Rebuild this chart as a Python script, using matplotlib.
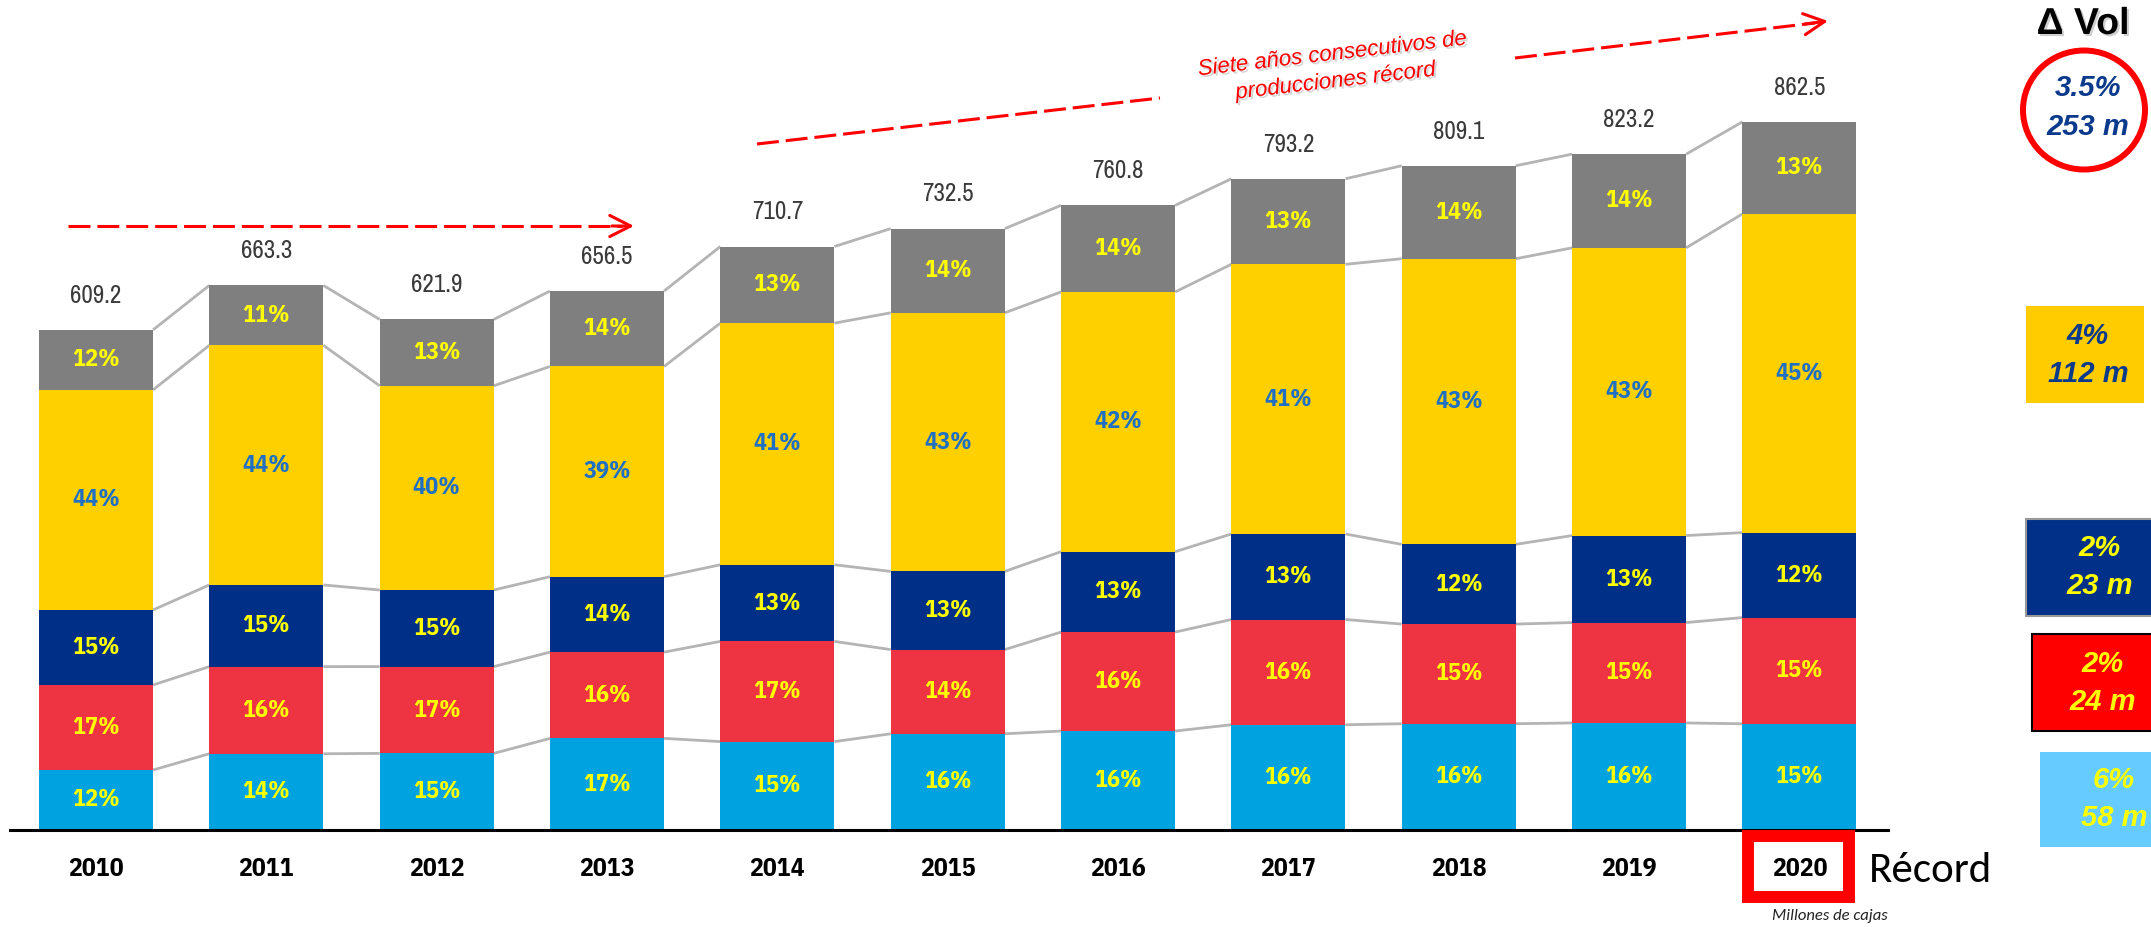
import matplotlib
matplotlib.use("Agg")
import numpy as np
import matplotlib.pyplot as plt
import matplotlib.patheffects as pe
from matplotlib.patches import Rectangle, Ellipse
from matplotlib.lines import Line2D
import logging

logging.getLogger('matplotlib.font_manager').setLevel(logging.ERROR)
plt.rcParams['lines.scale_dashes'] = False

# =========================
# DATA
# =========================
years = [2010, 2011, 2012, 2013, 2014, 2015, 2016, 2017, 2018, 2019, 2020]
totals = [609.2, 663.3, 621.9, 656.5, 710.7, 732.5, 760.8, 793.2, 809.1, 823.2, 862.5]

# share of each segment (%), bottom to top
pct_lightblue = [12, 14, 15, 17, 15, 16, 16, 16, 16, 16, 15]
pct_red = [17, 16, 17, 16, 17, 14, 16, 16, 15, 15, 15]
pct_navy = [15, 15, 15, 14, 13, 13, 13, 13, 12, 13, 12]
pct_yellow = [44, 44, 40, 39, 41, 43, 42, 41, 43, 43, 45]
pct_grey = [12, 11, 13, 14, 13, 14, 14, 13, 14, 14, 13]

# variation boxes on the right (total, yellow, navy, red, light blue)
delta_pct = ["3.5%", "4%", "2%", "2%", "6%"]
delta_vol = ["253 m", "112 m", "23 m", "24 m", "58 m"]

# =========================
# STYLE
# =========================
seg_colors = ['#00a3df', '#ee3342', '#002f87', '#ffd000', '#7f7f7f']
lab_colors = ['#ffff00', '#ffff00', '#ffff00', '#1f6fc4', '#ffff00']
narrow = ['Liberation Sans Narrow', 'Arial Narrow', 'Archivo Narrow', 'PT Sans Narrow',
          'Roboto Condensed', 'Open Sans Condensed', 'Liberation Sans', 'DejaVu Sans']
narrow_bold = ['Liberation Sans Narrow', 'Arial Narrow', 'IBM Plex Sans Condensed',
               'PT Sans Narrow', 'Open Sans Condensed', 'Liberation Sans', 'DejaVu Sans']
arial = ['Liberation Sans', 'DejaVu Sans']
calibri = ['Carlito', 'Lato', 'DejaVu Sans']

W, H = 2151, 927
fig = plt.figure(figsize=(W / 100, H / 100), dpi=100)


def fx(px):
    return px / W


def fy(py):
    return 1 - py / H


# axes: baseline at y=830 px, scale 0.821 px per unit
ax = fig.add_axes([fx(10), fy(830), 1878 / W, 830 / H])
ax.set_xlim(-0.505, 10.52)
ax.set_ylim(0, 830 / 0.821)
ax.axis('off')

x = np.arange(len(years))
bw = 0.67
pct = np.array([pct_lightblue, pct_red, pct_navy, pct_yellow, pct_grey], dtype=float)
vals = pct / pct.sum(axis=0) * np.array(totals)

bottom = np.zeros(len(years))
for k in range(len(pct)):
    ax.bar(x, vals[k], bottom=bottom, width=bw, color=seg_colors[k], zorder=2)
    for i in range(len(years)):
        ax.text(x[i], bottom[i] + vals[k][i] / 2, f"{int(pct[k][i])}%",
                ha='center', va='center', fontsize=17.5, fontweight='bold',
                family=narrow_bold, color=lab_colors[k], zorder=3)
    tops = bottom + vals[k]
    for i in range(len(years) - 1):
        ax.plot([x[i] + bw / 2, x[i + 1] - bw / 2], [tops[i], tops[i + 1]],
                color='#b4b4b4', lw=2, zorder=1, solid_capstyle='butt')
    bottom = tops

# totals above bars
for i, t in enumerate(totals):
    ax.annotate(f"{t:.1f}", (x[i], t), xytext=(0, 25), textcoords='offset points',
                ha='center', va='center', fontsize=18, family=narrow, color='#3a3a3a')

# year labels
for i, yr in enumerate(years):
    ax.annotate(str(yr), (x[i], 0), xytext=(0, -28), textcoords='offset points',
                ha='center', va='center', fontsize=18.5, fontweight='bold', family=narrow_bold,
                color='black', annotation_clip=False)

# baseline
ax.axhline(0, color='black', lw=2.2, clip_on=False, zorder=4)

# red box round 2020
fig.add_artist(Rectangle((fx(1748), fy(897)), 101 / W, 61 / H, transform=fig.transFigure,
                         fill=False, ec='#ff0000', lw=8.6))
fig.text(fx(1869), fy(870), "Récord", fontsize=31, family=calibri,
         ha='left', va='center')
fig.text(fx(1830), fy(916), "Millones de cajas", fontsize=12, style='italic',
         family=calibri, ha='center', va='center', color='#222222')

# =========================
# RED DASHED ARROWS
# =========================
dash = (0, (15.8, 5.0))


def dashed(p0, p1):
    fig.add_artist(Line2D([fx(p0[0]), fx(p1[0])], [fy(p0[1]), fy(p1[1])],
                          transform=fig.transFigure, color='#ff0000', lw=2.2, linestyle=dash))


def head(p0, p1):
    ax.annotate('', xy=(p1[0], H - p1[1]), xytext=(p0[0], H - p0[1]),
                xycoords='figure pixels', textcoords='figure pixels',
                arrowprops=dict(arrowstyle='->,head_length=0.75,head_width=0.38',
                                mutation_scale=20, color='#ff0000', lw=2.2,
                                shrinkA=0, shrinkB=0))


dashed((68, 226), (622, 226))
head((612, 226), (634, 226))

dashed((757, 144), (1160, 98))
dashed((1515, 58), (1815, 23))
head((1805, 24), (1828, 21))

fig.text(fx(1334), fy(68), "Siete años consecutivos de\nproducciones récord",
         fontsize=16, style='italic', family=arial, color='#ff0000', rotation=6.6,
         rotation_mode='anchor', ha='center', va='center', multialignment='center',
         linespacing=1.4,
         path_effects=[pe.withSimplePatchShadow(offset=(1.5, -1.5), shadow_rgbFace='#888888', alpha=0.35)])

# =========================
# RIGHT SIDE: VARIATION
# =========================
fig.text(fx(2083), fy(24), "Δ Vol", fontsize=27, fontweight='bold', family=arial,
         ha='center', va='center',
         path_effects=[pe.withSimplePatchShadow(offset=(1.5, -1.5), shadow_rgbFace='#888888', alpha=0.4)])

fig.add_artist(Ellipse((fx(2084), fy(110)), 122 / W, 119 / H, transform=fig.transFigure,
                       fill=False, ec='#ff0000', lw=4.3))

boxes = [  # x0, y0, x1, y1, face, edge, text colour, text x
    (2026, 306, 2144, 403, '#ffcc00', 'none', '#0b3a8c', 2088),
    (2026, 519, 2170, 616, '#003087', '#999999', '#ffff00', 2100),
    (2032, 634, 2170, 731, '#ff0000', 'black', '#ffff00', 2103),
    (2040, 752, 2170, 847, '#66ccff', 'none', '#ffff00', 2114),
]
fig.text(fx(2088), fy(88), delta_pct[0], fontsize=21, fontweight='bold', style='italic',
         family=arial, color='#0b3a8c', ha='center', va='center')
fig.text(fx(2088), fy(127), delta_vol[0], fontsize=21, fontweight='bold', style='italic',
         family=arial, color='#0b3a8c', ha='center', va='center')
for j, (x0, y0, x1, y1, fc, ec, tc, tx) in enumerate(boxes):
    fig.add_artist(Rectangle((fx(x0), fy(y1)), (x1 - x0) / W, (y1 - y0) / H,
                             transform=fig.transFigure, fc=fc, ec=ec, lw=1.5))
    cy = (y0 + y1) / 2
    fig.text(fx(tx), fy(cy - 19), delta_pct[j + 1], fontsize=21, fontweight='bold',
             style='italic', family=arial, color=tc, ha='center', va='center')
    fig.text(fx(tx), fy(cy + 19), delta_vol[j + 1], fontsize=21, fontweight='bold',
             style='italic', family=arial, color=tc, ha='center', va='center')

fig.savefig("out.png", dpi=100)
